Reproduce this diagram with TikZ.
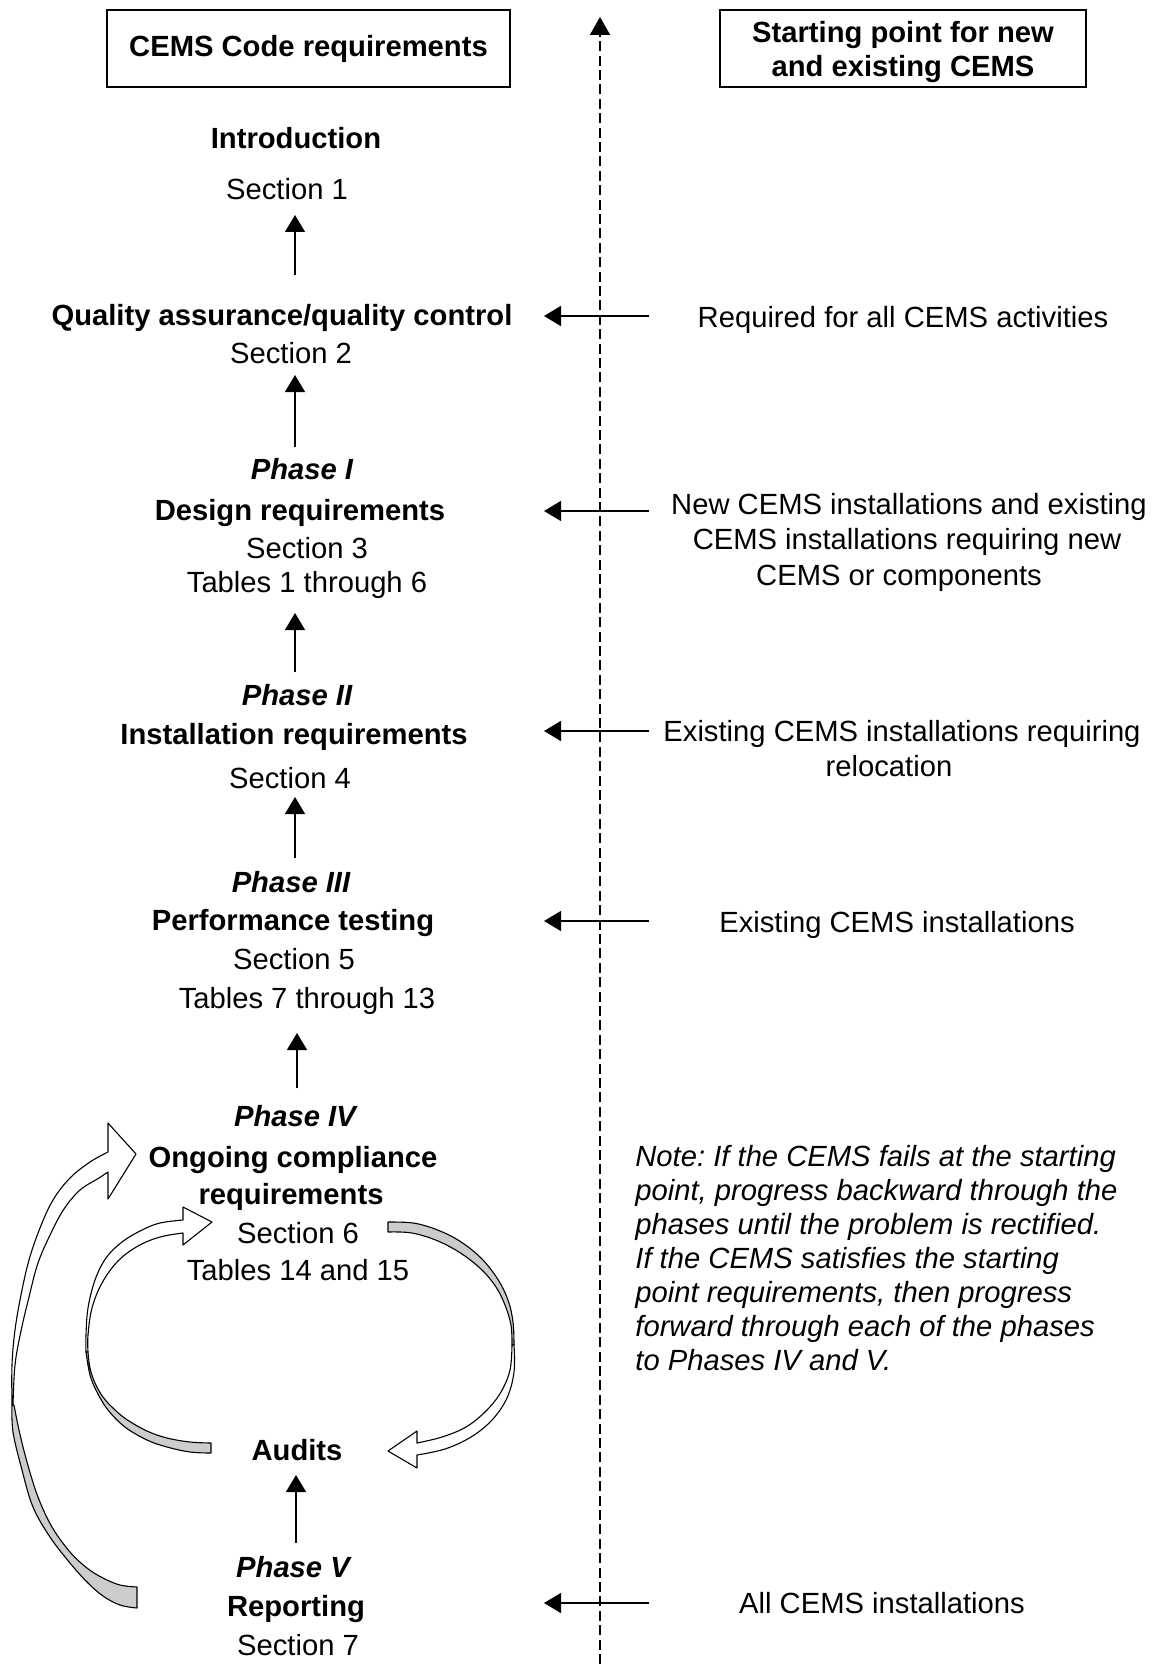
\documentclass[tikz,border=0pt]{standalone}
\usepackage{fontspec}
\setmainfont{Liberation Sans}
\usetikzlibrary{arrows.meta}
\frenchspacing
\begin{document}
\begin{tikzpicture}[x=0.5pt,y=-0.5pt,
  txt/.style={anchor=base,inner sep=0pt,font=\fontsize{14.6}{17}\selectfont},
  bt/.style={txt,font=\fontsize{14.6}{17}\selectfont\bfseries},
  it/.style={txt,font=\fontsize{14.6}{17}\selectfont\bfseries\itshape},
  nt/.style={anchor=base west,inner sep=0pt,font=\fontsize{14.6}{17}\selectfont\itshape},
  arr/.style={line width=0.65pt,-{Triangle[length=8.5pt,width=10pt]}},
  darr/.style={line width=0.8pt,dash pattern=on 5pt off 2.2pt,-{Triangle[length=9pt,width=10pt]}},
  hdrbox/.style={draw,line width=0.75pt,inner sep=0pt,minimum height=38.5pt},
  hdrtxt/.style={inner sep=0pt,font=\fontsize{14.6}{17}\selectfont\bfseries,align=center},
  band/.style={draw,line width=0.55pt,line join=round},
  bandgray/.style={band,fill=black!20},
  bandwhite/.style={band,fill=white},
]
\useasboundingbox (0,0) rectangle (1155,1664);

% header boxes
\node[hdrbox,minimum width=201.5pt] (hl) at (308.5,48.5) {};
\node[hdrtxt] (hlt) at (hl.center) {CEMS Code requirements};
\node[hdrbox,minimum width=183pt] (hr) at (903,48.5) {};
\node[hdrtxt,yshift=-2pt] (hrt) at (hr.center) {Starting point for new\\and existing CEMS};

% dashed divider
\coordinate (dbot) at (600,1664);
\coordinate (dtop) at (600,17);
\draw[darr] (dbot) -- (dtop);

% left column
\node[bt] (intro) at (296,149) {Introduction};
\node[txt] (s1) at (287,200) {Section 1};
\node[bt] (qa) at (282,325) {Quality assurance/quality control};
\node[txt] (s2) at (291,363) {Section 2};
\node[it] (p1) at (302,479) {Phase I};
\node[bt] (dr) at (300,520) {Design requirements};
\node[txt] (s3) at (307,558) {Section 3};
\node[txt] (t16) at (307,592) {Tables 1 through 6};
\node[it] (p2) at (297,705) {Phase II};
\node[bt] (ir) at (294,744) {Installation requirements};
\node[txt] (s4) at (290,788) {Section 4};
\node[it] (p3) at (291,892) {Phase III};
\node[bt] (pt) at (293,930) {Performance testing};
\node[txt] (s5) at (294,969) {Section 5};
\node[txt] (t713) at (307,1008) {Tables 7 through 13};
\node[it] (p4) at (295,1126) {Phase IV};
\node[bt] (oc) at (293,1167) {Ongoing compliance};
\node[bt] (rq) at (291,1204) {requirements};
\node[txt] (s6) at (298,1243) {Section 6};
\node[txt] (t1415) at (298,1280) {Tables 14 and 15};
\node[bt] (aud) at (297,1460) {Audits};
\node[it] (p5) at (293,1577) {Phase V};
\node[bt] (rep) at (296,1616) {Reporting};
\node[txt] (s7) at (298,1655) {Section 7};

% vertical arrows
\coordinate (a1b) at (295,275);  \coordinate (a1t) at (295,215);
\coordinate (a2b) at (295,447);  \coordinate (a2t) at (295,375);
\coordinate (a3b) at (295,672);  \coordinate (a3t) at (295,613);
\coordinate (a4b) at (295,858);  \coordinate (a4t) at (295,797);
\coordinate (a5b) at (297,1088); \coordinate (a5t) at (297,1033);
\coordinate (a6b) at (296,1543); \coordinate (a6t) at (296,1475);
\draw[arr] (a1b) -- (a1t);
\draw[arr] (a2b) -- (a2t);
\draw[arr] (a3b) -- (a3t);
\draw[arr] (a4b) -- (a4t);
\draw[arr] (a5b) -- (a5t);
\draw[arr] (a6b) -- (a6t);

% right column
\node[txt] (r1) at (903,327) {Required for all CEMS activities};
\node[txt] (r2a) at (909,514) {New CEMS installations and existing};
\node[txt] (r2b) at (907,549) {CEMS installations requiring new};
\node[txt] (r2c) at (899,585) {CEMS or components};
\node[txt] (r3a) at (902,741) {Existing CEMS installations requiring};
\node[txt] (r3b) at (889,776) {relocation};
\node[txt] (r4) at (897,932) {Existing CEMS installations};
\node[txt] (r5) at (882,1613) {All CEMS installations};

\node[nt] (n1) at (635,1166) {Note: If the CEMS fails at the starting};
\node[nt] (n2) at (635,1200) {point, progress backward through the};
\node[nt] (n3) at (635,1234) {phases until the problem is rectified.};
\node[nt] (n4) at (635,1268) {If the CEMS satisfies the starting};
\node[nt] (n5) at (635,1302) {point requirements, then progress};
\node[nt] (n6) at (635,1336) {forward through each of the phases};
\node[nt] (n7) at (635,1370) {to Phases IV and V.};

% horizontal arrows
\foreach \y/\n in {316/h1,511/h2,731/h3,921/h4,1603/h5}{
  \coordinate (\n s) at (649,\y);
  \coordinate (\n e) at (544,\y);
  \draw[arr] (\n s) -- (\n e);
}

% big curved arrow (Phase V -> Phase IV)
\filldraw[bandgray] plot[smooth,tension=0.6] coordinates {(12,1405) (13,1432) (22,1470) (33,1507) (50,1537) (70,1563) (87,1582) (103,1596) (120,1605) (137,1608)}
  -- (137,1587)
  -- plot[smooth,tension=0.6] coordinates {(137,1587) (120,1585) (103,1578) (87,1568) (70,1552) (52,1527) (38,1497) (27,1462) (19,1430) (14,1405)}
  -- cycle;
\filldraw[bandwhite] (108,1123) -- (136,1154) -- (108,1199) -- (108,1172)
  -- plot[smooth,tension=0.6] coordinates {(108,1172) (99,1178) (80,1190) (64,1209) (51,1233) (38,1263) (29,1297) (21,1331) (15,1365) (13,1405)}
  -- plot[smooth,tension=0.6] coordinates {(12,1405) (12,1365) (15,1330) (21,1295) (29,1260) (40,1228) (53,1200) (70,1178) (90,1162) (108,1152)}
  -- cycle;

% inner loop, left arrow (Audits -> Phase IV)
\filldraw[bandgray] plot[smooth,tension=0.6] coordinates {(88,1352) (90,1368) (95,1383) (103,1397) (113,1408) (126,1419) (147,1431) (167,1438) (190,1442) (211,1443)}
  -- (211,1453)
  -- plot[smooth,tension=0.6] coordinates {(211,1453) (190,1452) (167,1447) (147,1440) (125,1427) (108,1410) (97,1392) (90,1375) (86,1352)}
  -- cycle;
\filldraw[bandwhite] (183,1207) -- (212,1222) -- (183,1245) -- (183,1233)
  -- plot[smooth,tension=0.6] coordinates {(183,1233) (160,1237) (138,1246) (118,1261) (102,1283) (92,1308) (88,1335) (88,1352)}
  -- plot[smooth,tension=0.6] coordinates {(86,1352) (86,1335) (88,1308) (95,1280) (106,1258) (122,1242) (142,1230) (160,1223) (183,1220)}
  -- cycle;

% inner loop, right arrow (Phase IV -> Audits)
\filldraw[bandgray] plot[smooth,tension=0.6] coordinates {(388,1222) (413,1223) (435,1229) (458,1240) (480,1257) (497,1278) (508,1300) (513,1322) (514,1345)}
  -- plot[smooth,tension=0.6] coordinates {(512,1345) (511,1325) (505,1305) (496,1287) (482,1270) (462,1254) (438,1241) (412,1233) (388,1232)}
  -- cycle;
\filldraw[bandwhite] (417,1431) -- (388,1451) -- (417,1468) -- (417,1455)
  -- plot[smooth,tension=0.6] coordinates {(417,1455) (445,1449) (471,1437) (492,1420) (507,1398) (514,1372) (514,1345)}
  -- plot[smooth,tension=0.6] coordinates {(512,1345) (510,1370) (501,1392) (486,1411) (466,1427) (442,1437) (417,1443)}
  -- cycle;
\end{tikzpicture}
\end{document}
